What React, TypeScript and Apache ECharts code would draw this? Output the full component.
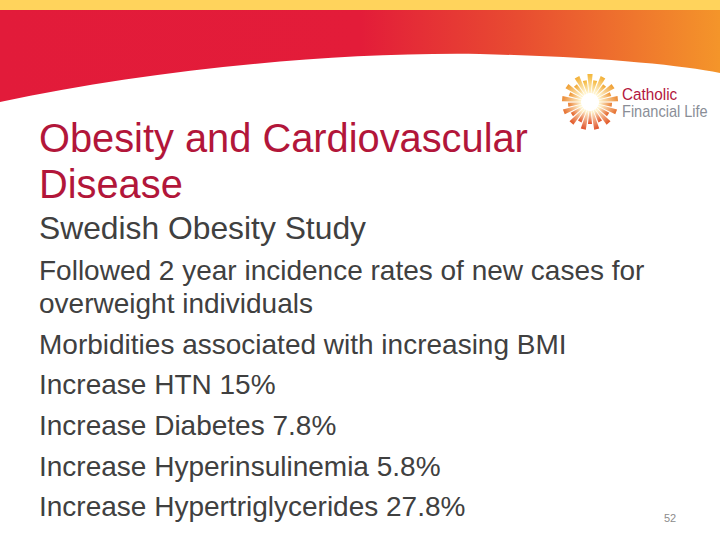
import React, { useEffect, useRef } from "react";
import * as echarts from "echarts";

const titleLines = ["Obesity and Cardiovascular", "Disease"];
const subtitle = "Swedish Obesity Study";
const introLines = [
  "Followed 2 year incidence rates of new cases for",
  "overweight individuals",
  "Morbidities associated with increasing BMI",
];
const conditions = ["HTN", "Diabetes", "Hyperinsulinemia", "Hypertriglycerides"];
const increases = [15, 7.8, 5.8, 27.8];
const logoWords = ["Catholic", "Financial Life"];
const pageNumber = "52";

let registered = false;
function registerShapes() {
  if (registered) return;
  registered = true;
  echarts.graphic.registerShape(
    "headerWave",
    echarts.graphic.extendPath(
      "M0 0 L720 0 L720 73 C680 65 600 57 480 54 C330 52 150 70 0 102 Z",
      {}
    )
  );
}

function hexMix(a: string, b: string, t: number) {
  const pa = [1, 3, 5].map((i) => parseInt(a.slice(i, i + 2), 16));
  const pb = [1, 3, 5].map((i) => parseInt(b.slice(i, i + 2), 16));
  const c = pa.map((v, i) => Math.round(v + (pb[i] - v) * t));
  return `rgb(${c[0]},${c[1]},${c[2]})`;
}

function logoRays(cx: number, cy: number) {
  const rays: any[] = [];
  const n = 26;
  for (let i = 0; i < n; i++) {
    const a = (i / n) * Math.PI * 2 - Math.PI / 2;
    const long = i % 2 === 0;
    const r1 = 9;
    const r2 = long ? 28 : 22;
    const w1 = 0.8;
    const w2 = long ? 2.6 : 2.0;
    const cos = Math.cos(a);
    const sin = Math.sin(a);
    const px = -sin;
    const py = cos;
    const pts = [
      [cx + cos * r1 + px * w1, cy + sin * r1 + py * w1],
      [cx + cos * r2 + px * w2, cy + sin * r2 + py * w2],
      [cx + cos * r2 - px * w2, cy + sin * r2 - py * w2],
      [cx + cos * r1 - px * w1, cy + sin * r1 - py * w1],
    ];
    const t = (sin + 1) / 2;
    const base = hexMix("#F4B73A", "#E0502C", t);
    rays.push({
      type: "polygon",
      shape: { points: pts },
      style: {
        fill: {
          type: "linear",
          x: 0.5 - 0.5 * cos,
          y: 0.5 - 0.5 * sin,
          x2: 0.5 + 0.5 * cos,
          y2: 0.5 + 0.5 * sin,
          colorStops: [
            { offset: 0, color: "#FFF3CC" },
            { offset: 1, color: base },
          ],
        },
      },
      silent: true,
    });
  }
  return rays;
}

export default function App() {
  const ref = useRef<HTMLDivElement>(null);
  useEffect(() => {
    if (!ref.current) return;
    registerShapes();
    const chart = echarts.init(ref.current, undefined, { renderer: "svg" });
    const bodyFont = "'Liberation Sans', Arial, sans-serif";
    const elements: any[] = [];

    elements.push({
      type: "headerWave",
      x: 0,
      y: 0,
      style: {
        fill: {
          type: "linear",
          x: 0,
          y: 0,
          x2: 1,
          y2: 0,
          colorStops: [
            { offset: 0, color: "#E21B3A" },
            { offset: 0.5, color: "#E31C39" },
            { offset: 0.72, color: "#E84C31" },
            { offset: 1, color: "#F4952A" },
          ],
        },
      },
      silent: true,
    });
    elements.push({
      type: "rect",
      shape: { x: 0, y: 0, width: 720, height: 10 },
      style: { fill: "#FFD35C" },
      silent: true,
    });

    elements.push(...logoRays(590, 102));
    elements.push({
      type: "text",
      x: 622,
      y: 94,
      scaleX: 0.9,
      style: {
        text: logoWords[0],
        fill: "#B3173E",
        font: `17px ${bodyFont}`,
        verticalAlign: "middle",
      },
    });
    elements.push({
      type: "text",
      x: 622,
      y: 111,
      scaleX: 0.91,
      style: {
        text: logoWords[1],
        fill: "#8A8E97",
        font: `16px ${bodyFont}`,
        verticalAlign: "middle",
      },
    });

    const titleY = [138, 184];
    titleLines.forEach((t, i) => {
      elements.push({
        type: "text",
        x: 39,
        y: titleY[i],
        style: {
          text: t,
          fill: "#B2163A",
          font: `39.8px ${bodyFont}`,
          verticalAlign: "middle",
        },
      });
    });

    elements.push({
      type: "text",
      x: 39,
      y: 228,
      style: {
        text: subtitle,
        fill: "#404040",
        font: `31.8px ${bodyFont}`,
        verticalAlign: "middle",
      },
    });

    const bodyLines = [
      ...introLines,
      ...conditions.map((c, i) => `Increase ${c} ${increases[i]}%`),
    ];
    const bodyY = [270, 303, 344, 384, 425, 466, 506];
    bodyLines.forEach((t, i) => {
      elements.push({
        type: "text",
        x: 39,
        y: bodyY[i],
        style: {
          text: t,
          fill: "#404040",
          font: `28px ${bodyFont}`,
          verticalAlign: "middle",
        },
      });
    });

    elements.push({
      type: "text",
      x: 670,
      y: 518,
      style: {
        text: pageNumber,
        fill: "#8C8C8C",
        font: `11px ${bodyFont}`,
        align: "center",
        verticalAlign: "middle",
      },
    });

    chart.setOption({
      animation: false,
      backgroundColor: "#FFFFFF",
      graphic: { elements },
    });
    return () => chart.dispose();
  }, []);
  return (
    <div
      ref={ref}
      style={{ position: "fixed", left: 0, top: 0, width: 720, height: 540, background: "#fff" }}
    />
  );
}
